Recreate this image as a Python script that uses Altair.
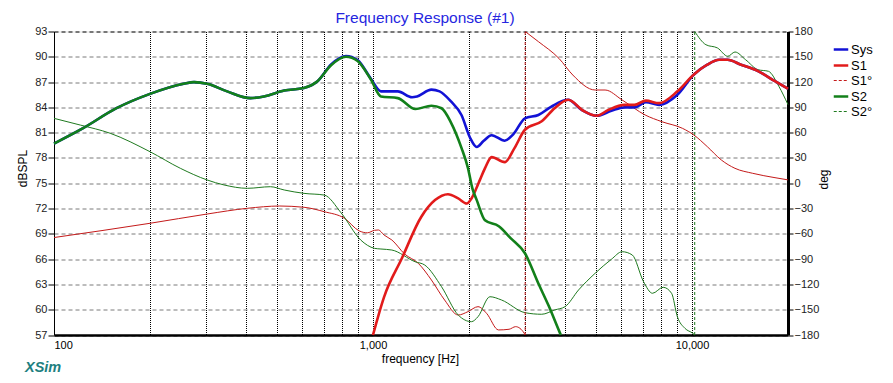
import altair as alt
import pandas as pd

FONT = "Liberation Sans"

# ---------------- data ----------------
chart_title = "Frequency Response (#1)"
series_order = ["Sys", "S1", "S1°", "S2", "S2°"]

sys_f = [100, 123, 157, 200, 255, 275, 302, 349, 413, 455, 527, 607, 670, 739, 823, 895, 985,
         1059, 1196, 1326, 1375, 1525, 1617, 1756, 1894, 2015, 2115, 2220, 2355, 2588, 2752,
         2995, 3300, 3625, 4090, 4510, 5030, 5590, 6140, 6600, 7170, 7890, 9000, 10140, 11170,
         12160, 12920, 14250, 16110, 18210, 20000]
sys_db = [79.7, 81.5, 83.9, 85.6, 86.8, 87.0, 86.8, 85.9, 85.1, 85.3, 86.0, 86.3, 87.1, 89.1,
          90.1, 89.6, 87.4, 85.9, 85.9, 85.2, 85.3, 86.1, 85.9, 84.7, 83.1, 80.4, 79.3, 80.0,
          80.7, 80.05, 80.8, 82.7, 83.1, 84.1, 84.9, 83.7, 83.0, 83.6, 84.0, 84.0, 84.6, 84.3,
          85.5, 87.9, 89.06, 89.65, 89.65, 89.06, 88.3, 87.1, 86.2]

s1_f = [1000, 1083, 1232, 1416, 1565, 1718, 1850, 1968, 2036, 2109, 2164, 2245, 2355, 2588,
        2780, 2995, 3380, 3710, 4090, 4565, 5030, 5470, 6140, 6600, 7170, 7890, 9000, 10140,
        11170, 12160, 12920, 14250, 16110, 18210, 20000]
s1_db = [57.0, 61.5, 66.1, 71.0, 73.0, 73.7, 73.2, 72.6, 73.2, 74.4, 75.4, 76.8, 78.1, 77.5,
         79.2, 81.35, 82.35, 83.9, 84.9, 83.6, 83.0, 83.7, 84.3, 84.3, 84.8, 84.5, 85.9, 87.9,
         89.06, 89.65, 89.65, 89.06, 88.3, 87.1, 86.2]

s2_f = [100, 123, 157, 200, 255, 275, 302, 349, 413, 455, 527, 607, 670, 739, 823, 895, 985,
        1059, 1196, 1358, 1525, 1640, 1756, 1894, 1985, 2049, 2115, 2245, 2480, 2700, 2995,
        3300, 3560, 3840, 3880]
s2_db = [79.7, 81.5, 83.9, 85.6, 86.8, 87.0, 86.8, 85.9, 85.1, 85.3, 86.0, 86.3, 87.1, 89.0,
         90.0, 89.5, 87.3, 85.3, 85.1, 83.8, 84.2, 83.9, 82.2, 79.2, 76.8, 74.4, 73.0, 70.6,
         69.9, 68.5, 66.7, 63.1, 60.4, 57.4, 57.0]

# phase of S1 (two branches, wrapped at +-180)
s1p_a_f = [100, 200, 302, 404, 510, 608, 703, 814, 905, 960, 1011, 1040, 1083, 1146, 1257,
           1387, 1525, 1677, 1850, 1985, 2134, 2270, 2474, 2670, 2800, 2980, 3000]
s1p_a_deg = [-64.4, -47.5, -36.5, -29.7, -27.0, -28.5, -33.7, -41.6, -56.5, -58.8, -55.8,
             -55.4, -61.4, -67.3, -84.0, -95.0, -114.8, -138.5, -156.3, -152.3, -146.4,
             -154.3, -174.0, -173.2, -170.1, -178.0, -180.0]
s1p_b_f = [3000, 3300, 3830, 4230, 4970, 5340, 6040, 7130, 8050, 9330, 10140, 11170, 12360,
           13640, 15500, 18210, 20000]
s1p_b_deg = [180, 168, 148, 128.4, 110.6, 110.6, 98.8, 81, 73, 65.2, 57.2, 43.4, 27.6, 17.7,
             11.8, 6.6, 4]

# phase of S2
s2p_a_f = [100, 121, 150, 200, 249, 302, 341, 404, 477, 527, 608, 703, 794, 915, 1011, 1059,
           1146, 1355, 1453, 1640, 1850, 2036, 2134, 2326, 2530, 2995, 3380, 3710, 4000, 4410,
           4970, 5590, 6040, 6500, 7050, 7520, 8120, 8630, 9000, 9500, 10060, 10200]
s2p_a_deg = [77, 69, 59.3, 37.4, 17.7, 3.9, -2, -6, -4.1, -8, -12, -14, -35, -67.3, -77.2, -78,
             -79.2, -93.1, -97, -122.7, -156.3, -164.2, -158.3, -134.6, -138.5, -153.5, -155.4,
             -150.3, -146.4, -126.6, -106.8, -90.2, -81.2, -85.1, -116.8, -130.5, -123.4,
             -130.5, -158.3, -172, -178, -180]
s2p_b_f = [10200, 11060, 12030, 12950, 13640, 14720, 16110, 17370, 18720, 20000]
s2p_b_deg = [180, 164.3, 160.4, 150.6, 155.7, 146.6, 134.7, 132.8, 115, 93.2]

wrap_f = [3000, 10200]
wrap_series = ["S1°", "S2°"]

db_ticks = list(range(57, 94, 3))
deg_ticks = list(range(-180, 181, 30))
grid_f = [100, 200, 300, 400, 500, 600, 700, 800, 900,
          1000, 2000, 3000, 4000, 5000, 6000, 7000, 8000, 9000, 10000, 20000]

# ---------------- tables ----------------
def mag_df(f, v, name):
    return pd.DataFrame({"f": f, "v": v, "series": name})

sys_df = mag_df(sys_f, sys_db, "Sys")
s1_df = mag_df(s1_f, s1_db, "S1")
s2_df = mag_df(s2_f, s2_db, "S2")

phase_df = pd.concat([
    pd.DataFrame({"f": s1p_a_f, "v": s1p_a_deg, "series": "S1°", "seg": "a"}),
    pd.DataFrame({"f": s1p_b_f, "v": s1p_b_deg, "series": "S1°", "seg": "b"}),
    pd.DataFrame({"f": s2p_a_f, "v": s2p_a_deg, "series": "S2°", "seg": "a"}),
    pd.DataFrame({"f": s2p_b_f, "v": s2p_b_deg, "series": "S2°", "seg": "b"}),
])
wrap_df = pd.DataFrame({"f": wrap_f, "lo": -180, "hi": 180, "series": wrap_series})

# ---------------- encodings ----------------
color_range = ["#1212d6", "#e21b1b", "#c41a1a", "#12801a", "#1f7a1f"]
width_range = [2.6, 2.6, 1.0, 2.6, 1.0]
dash_range = [[1, 0], [1, 0], [3, 2], [1, 0], [3, 2]]

legend = alt.Legend(title=None, orient="none", legendX=778, legendY=9,
                    symbolType="stroke", symbolSize=210, labelFont=FONT,
                    labelFontSize=13, labelColor="black", rowPadding=0,
                    labelOffset=1, padding=0)

color = alt.Color("series:N", scale=alt.Scale(domain=series_order, range=color_range),
                  legend=legend)
swidth = alt.StrokeWidth("series:N",
                         scale=alt.Scale(type="ordinal", domain=series_order, range=width_range),
                         legend=legend)
sdash = alt.StrokeDash("series:N", scale=alt.Scale(domain=series_order, range=dash_range),
                       legend=legend)

x_axis = alt.Axis(values=grid_f,
                  labelExpr="datum.value == 100 || datum.value == 1000 || datum.value == 10000 ? format(datum.value, ',') : ''",
                  labelOverlap=False, grid=True, gridColor="black", gridDash=[1, 1],
                  gridOpacity=1, ticks=False, domainColor="black", domainWidth=2.5,
                  labelFont=FONT, labelFontSize=11, labelColor="black", labelPadding=4,
                  title="frequency [Hz]", titleFont=FONT, titleFontSize=12,
                  titleFontWeight="normal", titleColor="black", titleX=366, titleY=23,
                  titleBaseline="middle", titleAlign="center")
x_enc = alt.X("f:Q", scale=alt.Scale(type="log", domain=[100, 20000], nice=False),
              axis=x_axis)

y_mag_axis = alt.Axis(values=db_ticks, grid=True,
                      gridColor=alt.condition("datum.value == 93", alt.value("black"),
                                              alt.value("#7a7a7a")),
                      gridDash=[4, 3],
                      gridOpacity=1, tickSize=6, tickColor="black", domainColor="black",
                      domainWidth=1, labelFont=FONT, labelFontSize=11, labelColor="#222",
                      labelPadding=1, title="dBSPL", titleFont=FONT, titleFontSize=12,
                      titleFontWeight="normal", titleColor="black", titleX=-32, titleY=136.5,
                      titleAngle=270, titleAlign="center", titleBaseline="middle")
y_mag = alt.Y("v:Q", scale=alt.Scale(domain=[57, 93], nice=False, zero=False),
              axis=y_mag_axis)

y_deg_axis = alt.Axis(orient="right", values=deg_ticks, grid=False, tickSize=5,
                      tickColor="black", domainColor="black", domainWidth=3,
                      labelFont=FONT, labelFontSize=11, labelColor="#222", labelPadding=1,
                      title="deg", titleFont=FONT, titleFontSize=12, titleFontWeight="normal",
                      titleColor="black", titleX=35, titleY=147.5, titleAngle=270,
                      titleAlign="center", titleBaseline="middle")
y_deg = alt.Y("v:Q", scale=alt.Scale(domain=[-180, 180], nice=False, zero=False),
              axis=y_deg_axis)

# ---------------- layers ----------------
phase_lines = alt.Chart(phase_df).mark_line(interpolate="monotone").encode(
    x=x_enc, y=y_deg, color=color, strokeWidth=swidth, detail="seg:N")
wrap_rules = alt.Chart(wrap_df).mark_rule().encode(
    x=x_enc, y=alt.Y("lo:Q", scale=alt.Scale(domain=[-180, 180], nice=False, zero=False),
                     axis=y_deg_axis),
    y2="hi:Q", color=color, strokeWidth=swidth, strokeDash=sdash)
phase_group = alt.layer(phase_lines, wrap_rules)

def mag_line(df):
    return alt.Chart(df).mark_line(interpolate="monotone").encode(
        x=x_enc, y=y_mag, color=color, strokeWidth=swidth)

label_df = pd.DataFrame({"t": [chart_title]})

brand = alt.Chart(label_df).mark_text(
    text="XSim", font=FONT, fontSize=14.5, fontWeight="bold", fontStyle="italic",
    color="#1e8080", align="left", baseline="alphabetic").encode(
    x=alt.value(-29), y=alt.value(340.5))

title_mark = alt.Chart(label_df).mark_text(
    font=FONT, fontSize=15.5, color="#2626e0", align="center",
    baseline="alphabetic").encode(
    text="t:N", x=alt.value(371), y=alt.value(-8.8))

mag_group = alt.layer(mag_line(sys_df), mag_line(s1_df), mag_line(s2_df), brand, title_mark)

chart = alt.layer(phase_group, mag_group).resolve_scale(y="independent").properties(
    width=734, height=303.5,
    autosize=alt.AutoSizeParams(type="none"),
    padding={"left": 46, "top": 23.5, "right": 95, "bottom": 40},
).configure_view(stroke=None).configure(background="white")

chart.save("out.html", embed_options={"renderer": "svg", "actions": False})
